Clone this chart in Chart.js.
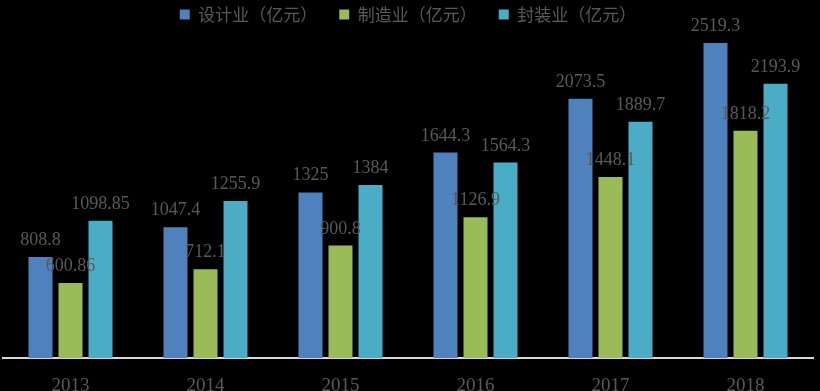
<!DOCTYPE html>
<html>
<head>
<meta charset="utf-8">
<script src="https://cdn.jsdelivr.net/npm/chart.js@4"></script>
<style>
  html, body { margin: 0; padding: 0; background: #000; }
  #wrap { width: 820px; height: 391px; }
</style>
</head>
<body>
<div id="wrap"><canvas id="chart"></canvas></div>
<script>
// data
const years = ['2013', '2014', '2015', '2016', '2017', '2018'];
const designValues = [808.8, 1047.4, 1325, 1644.3, 2073.5, 2519.3];
const makeValues = [600.86, 712.1, 900.8, 1126.9, 1448.1, 1818.2];
const packValues = [1098.85, 1255.9, 1384, 1564.3, 1889.7, 2193.9];
const seriesNames = ['设计业（亿元）', '制造业（亿元）', '封装业（亿元）'];

const labelColor = '#595959';
const serif = '"Liberation Serif", "DejaVu Serif", serif';

// value labels above each bar
const valueLabels = {
    id: 'valueLabels',
    afterDatasetsDraw(chart) {
        const ctx = chart.ctx;
        ctx.save();
        ctx.font = '18px ' + serif;
        ctx.fillStyle = labelColor;
        ctx.textAlign = 'center';
        ctx.textBaseline = 'alphabetic';
        chart.data.datasets.forEach((ds, i) => {
            const meta = chart.getDatasetMeta(i);
            meta.data.forEach((bar, j) => {
                ctx.fillText(String(ds.data[j]), bar.x, bar.y - 12);
            });
        });
        ctx.restore();
    }
};

const ctx = document.getElementById('chart').getContext('2d');
new Chart(ctx, {
    type: 'bar',
    data: {
        labels: years,
        datasets: [
            { label: seriesNames[0], data: designValues, backgroundColor: '#4F81BD' },
            { label: seriesNames[1], data: makeValues, backgroundColor: '#9BBB59' },
            { label: seriesNames[2], data: packValues, backgroundColor: '#4BACC6' }
        ]
    },
    options: {
        responsive: true,
        maintainAspectRatio: false,
        animation: false,
        layout: { padding: { left: 3, right: 7, top: -16, bottom: -14 } },
        datasets: {
            bar: { categoryPercentage: 0.667, barPercentage: 0.8 }
        },
        plugins: {
            legend: {
                position: 'top',
                labels: {
                    boxWidth: 10,
                    boxHeight: 10,
                    padding: 22,
                    color: labelColor,
                    font: { family: '"Noto Sans CJK SC"', size: 17 }
                }
            },
            tooltip: { enabled: false }
        },
        scales: {
            x: {
                grid: { display: false },
                border: { display: true, color: '#d9d9d9', width: 2 },
                ticks: { color: labelColor, padding: 8, font: { family: serif, size: 19 } }
            },
            y: {
                display: false,
                min: 0,
                max: 2600
            }
        }
    },
    plugins: [valueLabels]
});
</script>
</body>
</html>
